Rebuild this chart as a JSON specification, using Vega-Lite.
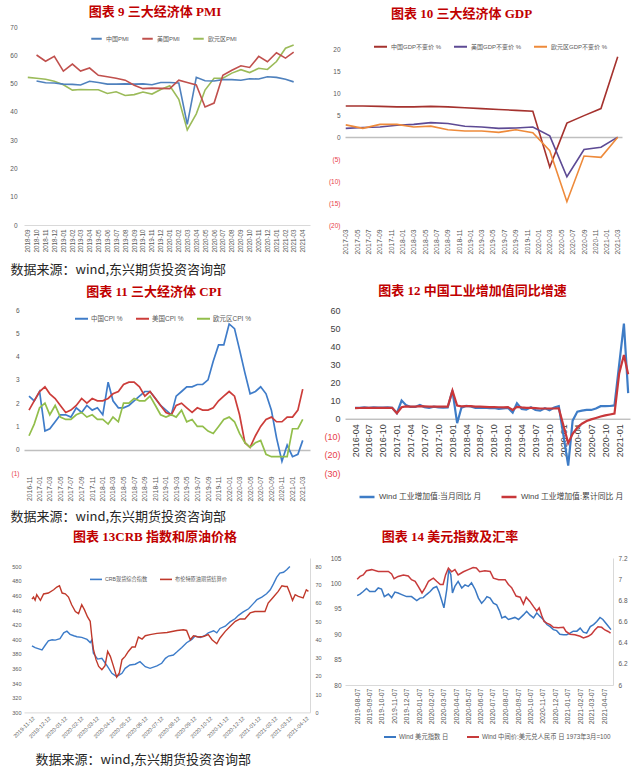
{
"$schema":"https://vega.github.io/schema/vega-lite/v6.json",
"background":"white",
"padding":{"left":9,"top":6,"right":4,"bottom":2},
"config":{"view":{"stroke":null},"font":"Liberation Sans, Noto Sans CJK SC","axis":{"grid":false,"ticks":false,"domain":false,"labelOverlap":false,"labelColor":"#595959","labelFont":"Liberation Sans, Noto Sans CJK SC","titleFont":"Noto Sans CJK SC"},"legend":{"labelFont":"Liberation Sans, Noto Sans CJK SC"},"title":{"fontSize":13,"font":"Liberation Serif, Noto Sans CJK SC","fontWeight":"bold","color":"#C00000","anchor":"middle","frame":"group"}},
"columns":2,
"spacing":{"row":85,"column":35},
"bounds":"flush",
"resolve":{"scale":{"color":"independent"},"legend":{"color":"independent"}},
"concat":[
{"width":286,"height":198,
"title":{"text":"图表 9  三大经济体 PMI","dx":-12,"offset":5},
"data":{"values":[
{"d":"2018-09-01","欧元区PMI":52.2},
{"d":"2018-10-01","中国PMI":50.9,"美国PMI":60.1,"欧元区PMI":51.9},
{"d":"2018-11-01","中国PMI":50.3,"美国PMI":57.9,"欧元区PMI":51.5},
{"d":"2018-12-01","中国PMI":50.2,"美国PMI":59.6,"欧元区PMI":50.8},
{"d":"2019-01-01","中国PMI":49.8,"美国PMI":54.4,"欧元区PMI":49.6},
{"d":"2019-02-01","中国PMI":49.7,"美国PMI":56.9,"欧元区PMI":47.7},
{"d":"2019-03-01","中国PMI":49.5,"美国PMI":54.4,"欧元区PMI":47.9},
{"d":"2019-04-01","中国PMI":50.8,"美国PMI":55.5,"欧元区PMI":47.8},
{"d":"2019-05-01","中国PMI":50.4,"美国PMI":52.9,"欧元区PMI":47.8},
{"d":"2019-06-01","中国PMI":49.8,"美国PMI":52.4,"欧元区PMI":46.5},
{"d":"2019-07-01","中国PMI":49.8,"美国PMI":51.9,"欧元区PMI":47.1},
{"d":"2019-08-01","中国PMI":49.9,"美国PMI":51.2,"欧元区PMI":45.8},
{"d":"2019-09-01","中国PMI":49.8,"美国PMI":49.4,"欧元区PMI":46.1},
{"d":"2019-10-01","中国PMI":49.9,"美国PMI":48.2,"欧元区PMI":47.0},
{"d":"2019-11-01","中国PMI":49.6,"美国PMI":48.4,"欧元区PMI":46.3},
{"d":"2019-12-01","中国PMI":50.4,"美国PMI":48.3,"欧元区PMI":47.9},
{"d":"2020-01-01","中国PMI":50.4,"美国PMI":48.2,"欧元区PMI":49.2},
{"d":"2020-02-01","中国PMI":50.2,"美国PMI":51.2,"欧元区PMI":44.4},
{"d":"2020-03-01","中国PMI":35.6,"美国PMI":50.4,"欧元区PMI":33.6},
{"d":"2020-04-01","中国PMI":52.2,"美国PMI":49.5,"欧元区PMI":39.3},
{"d":"2020-05-01","中国PMI":51.0,"美国PMI":41.7,"欧元区PMI":47.7},
{"d":"2020-06-01","中国PMI":50.9,"美国PMI":43.1,"欧元区PMI":51.9},
{"d":"2020-07-01","中国PMI":51.4,"美国PMI":52.9,"欧元区PMI":51.9},
{"d":"2020-08-01","中国PMI":51.4,"美国PMI":54.7,"欧元区PMI":53.7},
{"d":"2020-09-01","中国PMI":51.2,"美国PMI":56.3,"欧元区PMI":54.9},
{"d":"2020-10-01","中国PMI":51.7,"美国PMI":55.7,"欧元区PMI":53.9},
{"d":"2020-11-01","中国PMI":51.6,"美国PMI":59.6,"欧元区PMI":55.4},
{"d":"2020-12-01","中国PMI":52.4,"美国PMI":57.7,"欧元区PMI":55.0},
{"d":"2021-01-01","中国PMI":52.2,"美国PMI":60.9,"欧元区PMI":57.8},
{"d":"2021-02-01","中国PMI":51.5,"美国PMI":59.0,"欧元区PMI":62.5},
{"d":"2021-03-01","中国PMI":50.6,"美国PMI":61.1,"欧元区PMI":63.6}
]},
"transform":[{"fold":["中国PMI","美国PMI","欧元区PMI"],"as":["s","v"]},{"filter":"isValid(datum.v)"}],
"mark":{"type":"line","strokeWidth":1.6},
"encoding":{
"x":{"field":"d","type":"temporal","scale":{"type":"utc","domain":[{"year":2018,"month":8,"date":19,"utc":true},{"year":2021,"month":4,"date":26,"utc":true}]},
"axis":{"labelExpr":"utcFormat(datum.value, '%Y-%m')","tickCount":{"interval":"month","step":1},"labelAngle":-90,"labelFontSize":6.3,"labelPadding":4,"domain":true,"domainColor":"#D9D9D9","title":"数据来源：wind,东兴期货投资咨询部","titleX":-14,"titleY":44,"titleAlign":"left","titleBaseline":"middle","titleFontSize":13,"titleFontWeight":"normal","titleColor":"#262626"}},
"y":{"field":"v","type":"quantitative","scale":{"domain":[0,70],"nice":false},"axis":{"values":[0,10,20,30,40,50,60,70],"labelFontSize":6.5,"labelPadding":7,"title":null}},
"color":{"field":"s","type":"nominal","scale":{"domain":["中国PMI","美国PMI","欧元区PMI"],"range":["#4F81BD","#C0504D","#9BBB59"]},
"legend":{"orient":"none","legendX":66,"legendY":5,"direction":"horizontal","columns":3,"title":null,"symbolType":"stroke","symbolSize":110,"symbolStrokeWidth":2,"labelFontSize":6,"labelColor":"#595959","columnPadding":9,"labelOffset":3}}
}},
{"width":277,"height":198,
"title":{"text":"图表 10 三大经济体 GDP","dx":-22,"offset":6},
"data":{"values":[
{"d":"2017-03-01","中国GDP不变价 %":7.1,"美国GDP不变价 %":2.0,"欧元区GDP不变价 %":2.8},
{"d":"2017-06-01","中国GDP不变价 %":7.1,"美国GDP不变价 %":2.2,"欧元区GDP不变价 %":2.0},
{"d":"2017-09-01","中国GDP不变价 %":7.0,"美国GDP不变价 %":2.3,"欧元区GDP不变价 %":2.9},
{"d":"2017-12-01","中国GDP不变价 %":6.9,"美国GDP不变价 %":2.7,"欧元区GDP不变价 %":2.9},
{"d":"2018-03-01","中国GDP不变价 %":6.9,"美国GDP不变价 %":2.9,"欧元区GDP不变价 %":2.3},
{"d":"2018-06-01","中国GDP不变价 %":7.0,"美国GDP不变价 %":3.3,"欧元区GDP不变价 %":2.5},
{"d":"2018-09-01","中国GDP不变价 %":6.9,"美国GDP不变价 %":3.1,"欧元区GDP不变价 %":1.7},
{"d":"2018-12-01","中国GDP不变价 %":6.7,"美国GDP不变价 %":2.5,"欧元区GDP不变价 %":1.4},
{"d":"2019-03-01","中国GDP不变价 %":6.5,"美国GDP不变价 %":2.3,"欧元区GDP不变价 %":1.4},
{"d":"2019-06-01","中国GDP不变价 %":6.3,"美国GDP不变价 %":2.0,"欧元区GDP不变价 %":1.1},
{"d":"2019-09-01","中国GDP不变价 %":6.1,"美国GDP不变价 %":2.1,"欧元区GDP不变价 %":1.7},
{"d":"2019-12-01","中国GDP不变价 %":5.9,"美国GDP不变价 %":2.3,"欧元区GDP不变价 %":1.0},
{"d":"2020-03-01","中国GDP不变价 %":-6.8,"美国GDP不变价 %":0.3,"欧元区GDP不变价 %":-3.1},
{"d":"2020-06-01","中国GDP不变价 %":3.2,"美国GDP不变价 %":-9.0,"欧元区GDP不变价 %":-14.7},
{"d":"2020-09-01","中国GDP不变价 %":4.9,"美国GDP不变价 %":-2.8,"欧元区GDP不变价 %":-4.3},
{"d":"2020-12-01","中国GDP不变价 %":6.5,"美国GDP不变价 %":-2.3,"欧元区GDP不变价 %":-4.6},
{"d":"2021-03-01","中国GDP不变价 %":18.3,"美国GDP不变价 %":0,"欧元区GDP不变价 %":0}
]},
"transform":[{"fold":["中国GDP不变价 %","美国GDP不变价 %","欧元区GDP不变价 %"],"as":["s","v"]},{"filter":"isValid(datum.v)"}],
"mark":{"type":"line","strokeWidth":1.6},
"encoding":{
"x":{"field":"d","type":"temporal","scale":{"type":"utc","domain":[{"year":2017,"month":2,"date":25,"utc":true},{"year":2021,"month":3,"date":24,"utc":true}]},
"axis":{"labelExpr":"utcFormat(datum.value, '%Y-%m')","tickCount":{"interval":"month","step":2},"labelAngle":-90,"labelFontSize":6.8,"labelPadding":4,"title":null}},
"y":{"field":"v","type":"quantitative","scale":{"domain":[-20,25.08],"nice":false},"axis":{"values":[-20,-15,-10,-5,0,5,10,15,20],"grid":true,"gridColor":"#BFBFBF","gridWidth":1.6,"gridOpacity":{"condition":{"test":"datum.value === 0","value":1},"value":0},"labelExpr":"datum.value < 0 ? '(' + (-datum.value) + ')' : datum.label","labelColor":{"condition":{"test":"datum.value < 0","value":"#E8404A"},"value":"#595959"},"labelFontSize":6.5,"labelPadding":5,"title":null}},
"color":{"field":"s","type":"nominal","scale":{"domain":["中国GDP不变价 %","美国GDP不变价 %","欧元区GDP不变价 %"],"range":["#A5322E","#5D4A94","#EE8A3A"]},
"legend":{"orient":"none","legendX":28,"legendY":12,"direction":"horizontal","columns":3,"title":null,"symbolType":"stroke","symbolSize":169,"symbolStrokeWidth":2,"labelFontSize":6,"labelColor":"#595959","columnPadding":8,"labelOffset":3}}
}},
{"width":286,"height":163,
"title":{"text":"图表 11  三大经济体 CPI","dx":-13,"offset":8},
"data":{"values":[
{"d":"2016-11-01","a":2.3,"b":1.7,"c":0.6},
{"d":"2016-12-01","a":2.1,"b":2.1,"c":1.1},
{"d":"2017-01-01","a":2.5,"b":2.5,"c":1.8},
{"d":"2017-02-01","a":0.8,"b":2.7,"c":2.0},
{"d":"2017-03-01","a":0.9,"b":2.4,"c":1.5},
{"d":"2017-04-01","a":1.2,"b":2.2,"c":1.9},
{"d":"2017-05-01","a":1.5,"b":1.9,"c":1.4},
{"d":"2017-06-01","a":1.5,"b":1.6,"c":1.3},
{"d":"2017-07-01","a":1.4,"b":1.7,"c":1.3},
{"d":"2017-08-01","a":1.8,"b":1.9,"c":1.5},
{"d":"2017-09-01","a":1.6,"b":2.2,"c":1.6},
{"d":"2017-10-01","a":1.9,"b":2.0,"c":1.4},
{"d":"2017-11-01","a":1.7,"b":2.2,"c":1.5},
{"d":"2017-12-01","a":1.8,"b":2.1,"c":1.3},
{"d":"2018-01-01","a":1.5,"b":2.1,"c":1.3},
{"d":"2018-02-01","a":2.9,"b":2.2,"c":1.1},
{"d":"2018-03-01","a":2.1,"b":2.4,"c":1.4},
{"d":"2018-04-01","a":1.8,"b":2.5,"c":1.2},
{"d":"2018-05-01","a":1.8,"b":2.8,"c":2.0},
{"d":"2018-06-01","a":1.9,"b":2.9,"c":2.0},
{"d":"2018-07-01","a":2.1,"b":2.9,"c":2.2},
{"d":"2018-08-01","a":2.3,"b":2.7,"c":2.1},
{"d":"2018-09-01","a":2.5,"b":2.3,"c":2.1},
{"d":"2018-10-01","a":2.5,"b":2.5,"c":2.3},
{"d":"2018-11-01","a":2.2,"b":2.2,"c":1.9},
{"d":"2018-12-01","a":1.9,"b":1.9,"c":1.5},
{"d":"2019-01-01","a":1.7,"b":1.6,"c":1.4},
{"d":"2019-02-01","a":1.5,"b":1.5,"c":1.5},
{"d":"2019-03-01","a":2.3,"b":1.9,"c":1.4},
{"d":"2019-04-01","a":2.5,"b":2.0,"c":1.7},
{"d":"2019-05-01","a":2.7,"b":1.8,"c":1.2},
{"d":"2019-06-01","a":2.7,"b":1.6,"c":1.3},
{"d":"2019-07-01","a":2.8,"b":1.8,"c":1.0},
{"d":"2019-08-01","a":2.8,"b":1.7,"c":1.0},
{"d":"2019-09-01","a":3.0,"b":1.7,"c":0.8},
{"d":"2019-10-01","a":3.8,"b":1.8,"c":0.7},
{"d":"2019-11-01","a":4.5,"b":2.1,"c":1.0},
{"d":"2019-12-01","a":4.5,"b":2.3,"c":1.3},
{"d":"2020-01-01","a":5.4,"b":2.5,"c":1.4},
{"d":"2020-02-01","a":5.2,"b":2.3,"c":1.2},
{"d":"2020-03-01","a":4.3,"b":1.5,"c":0.7},
{"d":"2020-04-01","a":3.3,"b":0.3,"c":0.3},
{"d":"2020-05-01","a":2.4,"b":0.1,"c":0.1},
{"d":"2020-06-01","a":2.5,"b":0.6,"c":0.3},
{"d":"2020-07-01","a":2.7,"b":1.0,"c":0.4},
{"d":"2020-08-01","a":2.4,"b":1.3,"c":-0.2},
{"d":"2020-09-01","a":1.7,"b":1.4,"c":-0.3},
{"d":"2020-10-01","a":0.5,"b":1.2,"c":-0.3},
{"d":"2020-11-01","a":-0.5,"b":1.2,"c":-0.3},
{"d":"2020-12-01","a":0.2,"b":1.4,"c":-0.3},
{"d":"2021-01-01","a":-0.3,"b":1.4,"c":0.9},
{"d":"2021-02-01","a":-0.2,"b":1.7,"c":0.9},
{"d":"2021-03-01","a":0.4,"b":2.6,"c":1.3}
]},
"transform":[{"fold":["a","b","c"],"as":["k","v"]},{"lookup":"k","from":{"data":{"values":[{"k":"a","s":"中国CPI %"},{"k":"b","s":"美国CPI %"},{"k":"c","s":"欧元区CPI %"}]},"key":"k","fields":["s"]}}],
"mark":{"type":"line","strokeWidth":1.7},
"encoding":{
"x":{"field":"d","type":"temporal","scale":{"type":"utc","domain":[{"year":2016,"month":10,"date":3,"utc":true},{"year":2021,"month":4,"date":12,"utc":true}]},
"axis":{"labelExpr":"utcFormat(datum.value, '%Y-%m')","tickCount":{"interval":"month","step":2},"labelAngle":-90,"labelFontSize":6.8,"labelPadding":3,"title":"数据来源：wind,东兴期货投资咨询部","titleX":-14,"titleY":43,"titleAlign":"left","titleBaseline":"middle","titleFontSize":13,"titleFontWeight":"normal","titleColor":"#262626"}},
"y":{"field":"v","type":"quantitative","scale":{"domain":[-1,6],"nice":false},"axis":{"values":[-1,0,1,2,3,4,5,6],"grid":true,"gridColor":"#BFBFBF","gridWidth":1.3,"gridOpacity":{"condition":{"test":"datum.value === 0","value":1},"value":0},"labelExpr":"datum.value < 0 ? '(' + (-datum.value) + ')' : datum.label","labelColor":{"condition":{"test":"datum.value < 0","value":"#E8404A"},"value":"#595959"},"labelFontSize":6.5,"labelPadding":5,"title":null}},
"color":{"field":"s","type":"nominal","scale":{"domain":["中国CPI %","美国CPI %","欧元区CPI %"],"range":["#3F7CC9","#CC3D3A","#92BE4B"]},
"legend":{"orient":"none","legendX":50,"legendY":1,"direction":"horizontal","columns":3,"title":null,"symbolType":"stroke","symbolSize":169,"symbolStrokeWidth":2,"labelFontSize":6.5,"labelColor":"#595959","columnPadding":9,"labelOffset":2}}
}},
{"width":285,"height":163,
"title":{"text":"图表 12  中国工业增加值同比增速","dx":-15,"offset":8},
"data":{"values":[
{"d":"2016-04-01","m":6.0,"c":5.8},{"d":"2016-05-01","m":6.0,"c":5.9},{"d":"2016-06-01","m":6.2,"c":6.0},{"d":"2016-07-01","m":6.0,"c":6.0},
{"d":"2016-08-01","m":6.3,"c":6.0},{"d":"2016-09-01","m":6.1,"c":6.0},{"d":"2016-10-01","m":6.1,"c":6.0},{"d":"2016-11-01","m":6.2,"c":6.0},
{"d":"2016-12-01","m":6.0,"c":6.0},{"d":"2017-01-01","m":3.0,"c":3.0},{"d":"2017-02-01","m":10.0,"c":6.3},{"d":"2017-03-01","m":7.6,"c":6.8},
{"d":"2017-04-01","m":6.5,"c":6.7},{"d":"2017-05-01","m":6.5,"c":6.7},{"d":"2017-06-01","m":7.6,"c":6.9},{"d":"2017-07-01","m":6.4,"c":6.8},
{"d":"2017-08-01","m":6.0,"c":6.7},{"d":"2017-09-01","m":6.6,"c":6.7},{"d":"2017-10-01","m":6.2,"c":6.7},{"d":"2017-11-01","m":6.1,"c":6.6},
{"d":"2017-12-01","m":6.2,"c":6.6},{"d":"2018-01-01","m":15.5,"c":15.5},{"d":"2018-02-01","m":-2.5,"c":7.2},{"d":"2018-03-01","m":6.0,"c":6.8},
{"d":"2018-04-01","m":7.0,"c":6.9},{"d":"2018-05-01","m":6.8,"c":6.9},{"d":"2018-06-01","m":6.0,"c":6.7},{"d":"2018-07-01","m":6.0,"c":6.6},
{"d":"2018-08-01","m":6.1,"c":6.5},{"d":"2018-09-01","m":5.8,"c":6.4},{"d":"2018-10-01","m":5.9,"c":6.4},{"d":"2018-11-01","m":5.4,"c":6.3},
{"d":"2018-12-01","m":5.7,"c":6.2},{"d":"2019-01-01","m":6.0,"c":6.4},{"d":"2019-02-01","m":3.4,"c":4.8},{"d":"2019-03-01","m":8.5,"c":6.5},
{"d":"2019-04-01","m":5.4,"c":6.2},{"d":"2019-05-01","m":5.0,"c":6.0},{"d":"2019-06-01","m":6.3,"c":6.0},{"d":"2019-07-01","m":4.8,"c":5.8},
{"d":"2019-08-01","m":4.4,"c":5.6},{"d":"2019-09-01","m":5.8,"c":5.6},{"d":"2019-10-01","m":4.7,"c":5.6},{"d":"2019-11-01","m":6.2,"c":5.6},
{"d":"2019-12-01","m":6.9,"c":5.7},{"d":"2020-02-01","m":-25.9,"c":-13.5},{"d":"2020-03-01","m":-1.1,"c":-8.4},
{"d":"2020-04-01","m":3.9,"c":-4.9},{"d":"2020-05-01","m":4.4,"c":-2.8},{"d":"2020-06-01","m":4.8,"c":-1.3},{"d":"2020-07-01","m":4.8,"c":-0.4},
{"d":"2020-08-01","m":5.6,"c":0.4},{"d":"2020-09-01","m":6.9,"c":1.2},{"d":"2020-10-01","m":6.9,"c":1.8},{"d":"2020-11-01","m":7.0,"c":2.3},
{"d":"2020-12-01","m":7.3,"c":2.8},{"d":"2021-01-01","m":30,"c":25},{"d":"2021-02-01","m":52.5,"c":35.1},{"d":"2021-03-01","m":14.1,"c":24.5}
]},
"transform":[{"fold":["m","c"],"as":["k","v"]},{"lookup":"k","from":{"data":{"values":[{"k":"m","s":"Wind 工业增加值:当月同比 月"},{"k":"c","s":"Wind 工业增加值:累计同比 月"}]},"key":"k","fields":["s"]}}],
"mark":{"type":"line","strokeWidth":2.2},
"encoding":{
"x":{"field":"d","type":"temporal","scale":{"type":"utc","domain":[{"year":2016,"month":1,"date":26,"utc":true},{"year":2021,"month":3,"date":13,"utc":true}]},
"axis":{"offset":-54.3,"labelExpr":"utcFormat(datum.value, '%Y-%m')","tickCount":{"interval":"month","step":3},"labelAngle":-90,"labelFontSize":9,"labelColor":"#404040","labelPadding":5,"domain":true,"domainColor":"#A6A6A6","title":null}},
"y":{"field":"v","type":"quantitative","scale":{"domain":[-30,60],"nice":false},"axis":{"values":[-30,-20,-10,0,10,20,30,40,50,60],"labelExpr":"datum.value < 0 ? '(' + (-datum.value) + ')' : datum.label","labelColor":{"condition":{"test":"datum.value < 0","value":"#E8404A"},"value":"#404040"},"labelFontSize":9,"labelPadding":5,"title":null}},
"color":{"field":"s","type":"nominal","scale":{"domain":["Wind 工业增加值:当月同比 月","Wind 工业增加值:累计同比 月"],"range":["#3E7CC6","#C8373A"]},
"legend":{"orient":"none","legendX":13,"legendY":178,"direction":"horizontal","columns":2,"title":null,"symbolType":"stroke","symbolSize":225,"symbolStrokeWidth":2.5,"labelFontSize":7.8,"labelColor":"#404040","columnPadding":14,"labelOffset":3}}
}},
{"width":286,"height":154.4,
"title":{"text":"图表 13CRB 指数和原油价格","dx":-12,"offset":14},
"encoding":{
"x":{"field":"d","type":"temporal","scale":{"type":"utc","domain":[{"year":2019,"month":10,"date":28,"utc":true},{"year":2021,"month":4,"date":20,"utc":true}]},
"axis":{"values":[{"year":2019,"month":11,"date":12,"utc":true},{"year":2019,"month":12,"date":12,"utc":true},{"year":2020,"month":1,"date":12,"utc":true},{"year":2020,"month":2,"date":12,"utc":true},{"year":2020,"month":3,"date":12,"utc":true},{"year":2020,"month":4,"date":12,"utc":true},{"year":2020,"month":5,"date":12,"utc":true},{"year":2020,"month":6,"date":12,"utc":true},{"year":2020,"month":7,"date":12,"utc":true},{"year":2020,"month":8,"date":12,"utc":true},{"year":2020,"month":9,"date":12,"utc":true},{"year":2020,"month":10,"date":12,"utc":true},{"year":2020,"month":11,"date":12,"utc":true},{"year":2020,"month":12,"date":12,"utc":true},{"year":2021,"month":1,"date":12,"utc":true},{"year":2021,"month":2,"date":12,"utc":true},{"year":2021,"month":3,"date":12,"utc":true},{"year":2021,"month":4,"date":12,"utc":true}],
"labelExpr":"utcFormat(datum.value, '%Y-%m-%d')","labelAngle":-45,"labelFontSize":5.5,"labelPadding":3,"domain":true,"domainColor":"#D9D9D9","title":"数据来源：wind,东兴期货投资咨询部","titleX":11,"titleY":47,"titleAlign":"left","titleBaseline":"middle","titleFontSize":13,"titleFontWeight":"normal","titleColor":"#262626"}}
},
"layer":[
{"data":{"values":[
{"d":"2019-11-12","v":391},{"d":"2019-11-18","v":388.6},{"d":"2019-11-25","v":387},{"d":"2019-12-01","v":385.5},{"d":"2019-12-07","v":392},{"d":"2019-12-13","v":398},{"d":"2019-12-20","v":399.5},{"d":"2019-12-26","v":399},
{"d":"2020-01-04","v":401},{"d":"2020-01-11","v":409},{"d":"2020-01-17","v":411.3},{"d":"2020-01-23","v":407},{"d":"2020-01-30","v":405},{"d":"2020-02-05","v":403.6},{"d":"2020-02-14","v":402.7},{"d":"2020-02-24","v":400},
{"d":"2020-03-01","v":395.6},{"d":"2020-03-04","v":399},{"d":"2020-03-07","v":381},{"d":"2020-03-15","v":373},{"d":"2020-03-23","v":374},{"d":"2020-04-02","v":363.6},{"d":"2020-04-11","v":353.6},{"d":"2020-04-20","v":349},
{"d":"2020-04-30","v":353.6},{"d":"2020-05-06","v":360.4},{"d":"2020-05-15","v":365},{"d":"2020-05-25","v":366},{"d":"2020-06-03","v":369.5},{"d":"2020-06-13","v":362.6},{"d":"2020-06-22","v":360.4},{"d":"2020-07-05","v":363.6},
{"d":"2020-07-14","v":367.3},{"d":"2020-07-21","v":374},{"d":"2020-07-27","v":377.2},{"d":"2020-08-05","v":378.6},{"d":"2020-08-12","v":383},{"d":"2020-08-21","v":389},{"d":"2020-08-30","v":395.4},{"d":"2020-09-09","v":400},
{"d":"2020-09-15","v":404.5},{"d":"2020-09-25","v":402.7},{"d":"2020-10-04","v":405.4},{"d":"2020-10-10","v":409},{"d":"2020-10-20","v":411.8},{"d":"2020-10-26","v":409},{"d":"2020-11-01","v":415},{"d":"2020-11-11","v":418},
{"d":"2020-11-20","v":424},{"d":"2020-11-30","v":428.6},{"d":"2020-12-06","v":433},{"d":"2020-12-15","v":437.6},{"d":"2020-12-25","v":442},{"d":"2021-01-03","v":449},{"d":"2021-01-10","v":454.5},{"d":"2021-01-19","v":458},
{"d":"2021-01-28","v":462.6},{"d":"2021-02-04","v":468},{"d":"2021-02-10","v":476},{"d":"2021-02-16","v":485},{"d":"2021-02-22","v":490.7},{"d":"2021-03-01","v":492},{"d":"2021-03-07","v":495.4},{"d":"2021-03-13","v":500}
]},
"mark":{"type":"line","strokeWidth":1.4},
"encoding":{
"y":{"field":"v","type":"quantitative","scale":{"domain":[300,511.5],"nice":false},"axis":{"values":[300,320,340,360,380,400,420,440,460,480,500],"labelFontSize":5.5,"labelPadding":3,"title":null}},
"color":{"datum":"CRB现货综合指数","type":"nominal","scale":{"domain":["CRB现货综合指数","布伦特原油期货结算价"],"range":["#3D7CC9","#C0392B"]},
"legend":{"orient":"none","legendX":65,"legendY":14,"direction":"horizontal","columns":2,"title":null,"symbolType":"stroke","symbolSize":144,"symbolStrokeWidth":1.6,"labelFontSize":5.2,"labelColor":"#595959","columnPadding":8,"labelOffset":2}}
}},
{"data":{"values":[
{"d":"2019-11-12","v":62.1},{"d":"2019-11-15","v":63.2},{"d":"2019-11-18","v":61.5},{"d":"2019-11-21","v":64.5},{"d":"2019-11-28","v":61.4},{"d":"2019-12-04","v":64.9},{"d":"2019-12-13","v":65.4},{"d":"2019-12-23","v":67.2},
{"d":"2019-12-29","v":68.7},{"d":"2020-01-03","v":69.4},{"d":"2020-01-08","v":65.4},{"d":"2020-01-14","v":65},{"d":"2020-01-20","v":63.2},{"d":"2020-01-26","v":59},{"d":"2020-02-02","v":55.3},{"d":"2020-02-08","v":54.1},
{"d":"2020-02-14","v":59},{"d":"2020-02-19","v":56.3},{"d":"2020-02-25","v":52.3},{"d":"2020-03-01","v":49.9},{"d":"2020-03-04","v":41.6},{"d":"2020-03-07","v":34.7},{"d":"2020-03-12","v":28.9},{"d":"2020-03-17","v":25.2},
{"d":"2020-03-23","v":23.4},{"d":"2020-03-29","v":25.6},{"d":"2020-04-03","v":33.4},{"d":"2020-04-08","v":30.7},{"d":"2020-04-14","v":25.2},{"d":"2020-04-20","v":19.4},{"d":"2020-04-25","v":21.6},{"d":"2020-04-30","v":28.9},
{"d":"2020-05-06","v":30.7},{"d":"2020-05-12","v":33.4},{"d":"2020-05-19","v":35.8},{"d":"2020-05-25","v":35.8},{"d":"2020-05-31","v":41.3},{"d":"2020-06-07","v":40.2},{"d":"2020-06-13","v":42},{"d":"2020-06-22","v":42.6},
{"d":"2020-07-05","v":43.3},{"d":"2020-07-24","v":43.8},{"d":"2020-08-12","v":44.9},{"d":"2020-08-24","v":45.3},{"d":"2020-08-30","v":44.9},{"d":"2020-09-06","v":39.8},{"d":"2020-09-12","v":42},{"d":"2020-09-21","v":41.3},
{"d":"2020-10-01","v":41.6},{"d":"2020-10-10","v":42.6},{"d":"2020-10-17","v":39.8},{"d":"2020-10-26","v":37.6},{"d":"2020-11-01","v":40.8},{"d":"2020-11-11","v":44.4},{"d":"2020-11-20","v":47.1},{"d":"2020-11-30","v":49.9},
{"d":"2020-12-09","v":51.2},{"d":"2020-12-18","v":51.2},{"d":"2020-12-28","v":54.5},{"d":"2021-01-06","v":55.3},{"d":"2021-01-16","v":55.3},{"d":"2021-01-25","v":55.3},{"d":"2021-01-31","v":59.9},{"d":"2021-02-10","v":63.2},
{"d":"2021-02-19","v":66.3},{"d":"2021-02-26","v":69.4},{"d":"2021-03-04","v":69},{"d":"2021-03-08","v":69},{"d":"2021-03-13","v":65.4},{"d":"2021-03-18","v":61.4},{"d":"2021-03-23","v":64.5},{"d":"2021-03-29","v":63.6},
{"d":"2021-04-07","v":62.7},{"d":"2021-04-13","v":67.2},{"d":"2021-04-17","v":66.3}
]},
"mark":{"type":"line","strokeWidth":1.4},
"encoding":{
"y":{"field":"v","type":"quantitative","scale":{"domain":[0,84.6],"nice":false},"axis":{"orient":"right","values":[0,10,20,30,40,50,60,70,80],"labelFontSize":5.5,"labelPadding":5,"domain":true,"domainColor":"#D9D9D9","title":null}},
"color":{"datum":"布伦特原油期货结算价","type":"nominal"}
}}
],
"resolve":{"scale":{"y":"independent"}}},
{"width":268,"height":127,
"title":{"text":"图表 14  美元指数及汇率","dx":-29,"offset":11},
"encoding":{
"x":{"field":"d","type":"temporal","scale":{"type":"utc","domain":[{"year":2019,"month":7,"date":8,"utc":true},{"year":2021,"month":4,"date":29,"utc":true}]},
"axis":{"values":[{"year":2019,"month":8,"date":7,"utc":true},{"year":2019,"month":9,"date":7,"utc":true},{"year":2019,"month":10,"date":7,"utc":true},{"year":2019,"month":11,"date":7,"utc":true},{"year":2019,"month":12,"date":7,"utc":true},{"year":2020,"month":1,"date":7,"utc":true},{"year":2020,"month":2,"date":7,"utc":true},{"year":2020,"month":3,"date":7,"utc":true},{"year":2020,"month":4,"date":7,"utc":true},{"year":2020,"month":5,"date":7,"utc":true},{"year":2020,"month":6,"date":7,"utc":true},{"year":2020,"month":7,"date":7,"utc":true},{"year":2020,"month":8,"date":7,"utc":true},{"year":2020,"month":9,"date":7,"utc":true},{"year":2020,"month":10,"date":7,"utc":true},{"year":2020,"month":11,"date":7,"utc":true},{"year":2020,"month":12,"date":7,"utc":true},{"year":2021,"month":1,"date":7,"utc":true},{"year":2021,"month":2,"date":7,"utc":true},{"year":2021,"month":3,"date":7,"utc":true},{"year":2021,"month":4,"date":7,"utc":true}],
"labelExpr":"utcFormat(datum.value, '%Y-%m-%d')","labelAngle":-90,"labelFontSize":7,"labelPadding":3,"domain":true,"domainColor":"#D9D9D9","title":null}}
},
"layer":[
{"data":{"values":[
{"d":"2019-08-07","v":97.6},{"d":"2019-08-14","v":97.9},{"d":"2019-08-22","v":98.4},{"d":"2019-08-30","v":99.0},{"d":"2019-09-07","v":98.4},{"d":"2019-09-20","v":98.4},{"d":"2019-09-28","v":99.1},{"d":"2019-10-06","v":98.9},
{"d":"2019-10-13","v":97.4},{"d":"2019-10-23","v":97.9},{"d":"2019-10-31","v":97.2},{"d":"2019-11-08","v":98.3},{"d":"2019-11-16","v":98.1},{"d":"2019-11-25","v":97.8},{"d":"2019-12-07","v":97.4},{"d":"2019-12-19","v":97.4},
{"d":"2020-01-01","v":96.6},{"d":"2020-01-09","v":97.1},{"d":"2020-01-17","v":97.2},{"d":"2020-01-25","v":97.8},{"d":"2020-02-03","v":98.4},{"d":"2020-02-11","v":99.1},{"d":"2020-02-19","v":99.4},{"d":"2020-02-25","v":98.3},
{"d":"2020-03-02","v":96.8},{"d":"2020-03-08","v":95.2},{"d":"2020-03-15","v":98.8},{"d":"2020-03-20","v":102.7},{"d":"2020-03-25","v":101.7},{"d":"2020-03-29","v":98.1},{"d":"2020-04-04","v":99.4},{"d":"2020-04-12","v":100.4},
{"d":"2020-04-21","v":99.1},{"d":"2020-04-29","v":99.7},{"d":"2020-05-07","v":99.4},{"d":"2020-05-15","v":100.1},{"d":"2020-05-24","v":98.8},{"d":"2020-06-01","v":97.1},{"d":"2020-06-09","v":96.1},{"d":"2020-06-17","v":96.8},
{"d":"2020-06-22","v":97.4},{"d":"2020-06-30","v":97.1},{"d":"2020-07-08","v":96.1},{"d":"2020-07-16","v":95.8},{"d":"2020-07-23","v":94.6},{"d":"2020-07-29","v":93.2},{"d":"2020-08-06","v":93.5},{"d":"2020-08-14","v":92.9},
{"d":"2020-08-22","v":93.1},{"d":"2020-08-30","v":93.3},{"d":"2020-09-08","v":92.9},{"d":"2020-09-20","v":93.8},{"d":"2020-09-28","v":94.5},{"d":"2020-10-06","v":93.8},{"d":"2020-10-15","v":93.2},{"d":"2020-10-23","v":94.2},
{"d":"2020-10-31","v":93.5},{"d":"2020-11-08","v":92.9},{"d":"2020-11-17","v":91.9},{"d":"2020-11-25","v":91.5},{"d":"2020-12-03","v":90.9},{"d":"2020-12-11","v":90.7},{"d":"2020-12-19","v":90.0},{"d":"2020-12-28","v":89.9},
{"d":"2021-01-05","v":89.9},{"d":"2021-01-13","v":90.2},{"d":"2021-01-21","v":90.6},{"d":"2021-01-30","v":90.6},{"d":"2021-02-07","v":91.2},{"d":"2021-02-15","v":90.4},{"d":"2021-02-23","v":90.2},{"d":"2021-03-04","v":91.5},
{"d":"2021-03-12","v":91.9},{"d":"2021-03-20","v":92.5},{"d":"2021-03-28","v":93.3},{"d":"2021-04-04","v":92.9},{"d":"2021-04-14","v":91.9},{"d":"2021-04-24","v":90.9}
]},
"mark":{"type":"line","strokeWidth":1.5},
"encoding":{
"y":{"field":"v","type":"quantitative","scale":{"domain":[80,105],"nice":false},"axis":{"values":[80,85,90,95,100,105],"labelFontSize":6.5,"labelPadding":4,"title":null}},
"color":{"datum":"Wind 美元指数 日","type":"nominal","scale":{"domain":["Wind 美元指数 日","Wind 中间价:美元兑人民币 日 1973年3月=100"],"range":["#3A78C3","#C73B3B"]},
"legend":{"orient":"none","legendX":38,"legendY":172,"direction":"horizontal","columns":2,"title":null,"symbolType":"stroke","symbolSize":144,"symbolStrokeWidth":2,"labelFontSize":6.3,"labelColor":"#595959","columnPadding":14,"labelOffset":2}}
}},
{"data":{"values":[
{"d":"2019-08-07","v":7.0},{"d":"2019-08-14","v":7.026},{"d":"2019-08-22","v":7.04},{"d":"2019-08-30","v":7.08},{"d":"2019-09-12","v":7.09},{"d":"2019-09-28","v":7.073},{"d":"2019-10-23","v":7.073},{"d":"2019-10-31","v":7.05},
{"d":"2019-11-06","v":7.004},{"d":"2019-11-16","v":7.026},{"d":"2019-11-29","v":7.04},{"d":"2019-12-11","v":7.03},{"d":"2019-12-19","v":6.995},{"d":"2019-12-28","v":6.98},{"d":"2020-01-05","v":6.93},{"d":"2020-01-14","v":6.87},
{"d":"2020-01-22","v":6.92},{"d":"2020-01-30","v":6.98},{"d":"2020-02-05","v":6.995},{"d":"2020-02-11","v":7.01},{"d":"2020-02-19","v":6.98},{"d":"2020-02-28","v":6.95},{"d":"2020-03-06","v":6.95},{"d":"2020-03-12","v":7.04},
{"d":"2020-03-19","v":7.105},{"d":"2020-03-27","v":7.07},{"d":"2020-04-04","v":7.09},{"d":"2020-04-12","v":7.04},{"d":"2020-04-25","v":7.07},{"d":"2020-05-07","v":7.09},{"d":"2020-05-19","v":7.11},{"d":"2020-05-27","v":7.105},
{"d":"2020-06-04","v":7.07},{"d":"2020-06-17","v":7.08},{"d":"2020-06-30","v":7.073},{"d":"2020-07-08","v":7.01},{"d":"2020-07-21","v":6.995},{"d":"2020-08-06","v":6.995},{"d":"2020-08-14","v":6.95},{"d":"2020-08-22","v":6.92},
{"d":"2020-09-02","v":6.84},{"d":"2020-09-12","v":6.83},{"d":"2020-09-20","v":6.765},{"d":"2020-09-27","v":6.83},{"d":"2020-10-06","v":6.79},{"d":"2020-10-15","v":6.74},{"d":"2020-10-23","v":6.70},{"d":"2020-10-29","v":6.73},
{"d":"2020-11-04","v":6.66},{"d":"2020-11-10","v":6.60},{"d":"2020-11-17","v":6.585},{"d":"2020-11-25","v":6.57},{"d":"2020-12-03","v":6.545},{"d":"2020-12-15","v":6.54},{"d":"2020-12-28","v":6.545},{"d":"2021-01-03","v":6.506},
{"d":"2021-01-13","v":6.48},{"d":"2021-01-25","v":6.475},{"d":"2021-02-07","v":6.46},{"d":"2021-02-15","v":6.444},{"d":"2021-02-27","v":6.46},{"d":"2021-03-07","v":6.48},{"d":"2021-03-15","v":6.52},{"d":"2021-03-23","v":6.55},
{"d":"2021-04-01","v":6.545},{"d":"2021-04-09","v":6.52},{"d":"2021-04-17","v":6.506},{"d":"2021-04-23","v":6.49}
]},
"mark":{"type":"line","strokeWidth":1.5},
"encoding":{
"y":{"field":"v","type":"quantitative","scale":{"domain":[6,7.2],"nice":false},"axis":{"orient":"right","values":[6,6.2,6.4,6.6,6.8,7,7.2],"format":"~g","labelFontSize":6.5,"labelPadding":5,"domain":true,"domainColor":"#D9D9D9","title":null}},
"color":{"datum":"Wind 中间价:美元兑人民币 日 1973年3月=100","type":"nominal"}
}}
],
"resolve":{"scale":{"y":"independent"}}}
]
}
